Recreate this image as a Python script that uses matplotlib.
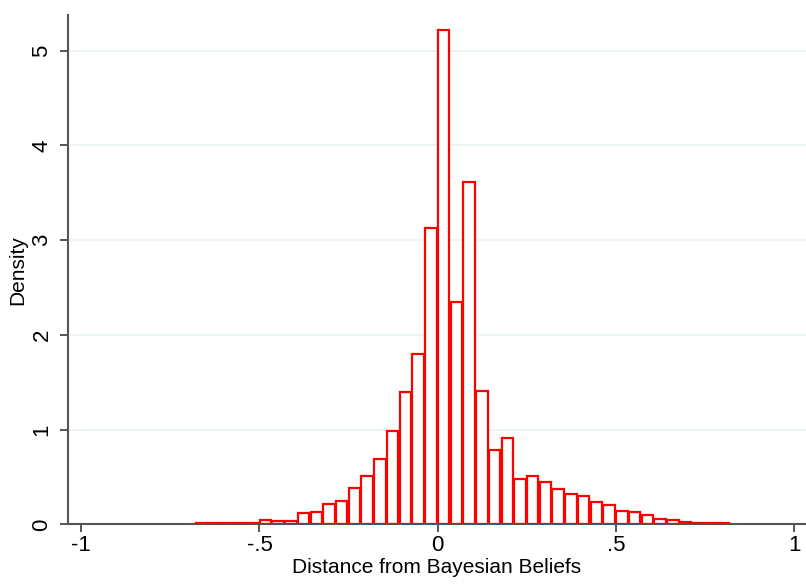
import numpy as np
import matplotlib.pyplot as plt

plt.rcParams['font.family'] = ['Liberation Sans', 'DejaVu Sans']

# histogram of distance from Bayesian beliefs (42 bins from -0.68 to 0.82)
bin_start = -0.68
bin_width = 1.5 / 42
density = [0.012, 0.010, 0.010, 0.010, 0.012,
           0.045, 0.035, 0.030, 0.120, 0.130, 0.210, 0.250, 0.380, 0.505, 0.690,
           0.990, 1.400, 1.800, 3.130, 5.220, 2.350, 3.610, 1.410, 0.780, 0.906,
           0.477, 0.510, 0.450, 0.375, 0.325, 0.295, 0.237, 0.200, 0.143, 0.125,
           0.100, 0.055, 0.045, 0.023, 0.014, 0.012, 0.010]
xticks = [-1, -0.5, 0, 0.5, 1]
xticklabels = ['-1', '-.5', '0', '.5', '1']
yticks = [0, 1, 2, 3, 4, 5]

centers = bin_start + bin_width * (np.arange(len(density)) + 0.5)

fig = plt.figure(figsize=(8.06, 5.84), dpi=100)
ax = fig.add_axes([0.084, 0.1022, 0.916, 0.8721])

ax.bar(centers, density, width=bin_width * 0.9, facecolor='white',
       edgecolor='#ff0000', linewidth=1.6, zorder=3)

ax.set_xlim(-1.038, 1.033)
ax.set_ylim(0, 5.377)
ax.set_xticks(xticks)
ax.set_xticklabels(xticklabels)
ax.set_yticks(yticks)
ax.set_yticklabels([str(v) for v in yticks], rotation=90, va='center')

ax.grid(axis='y', color='#eaf2f3', linewidth=1.2, zorder=0)
for side in ['top', 'right']:
    ax.spines[side].set_visible(False)
for side in ['left', 'bottom']:
    ax.spines[side].set_color('#555555')
    ax.spines[side].set_linewidth(1.5)
ax.tick_params(axis='both', direction='out', length=6, width=1.4,
               color='#555555', labelsize=16)
ax.tick_params(axis='x', pad=2)
ax.tick_params(axis='y', pad=5)

ax.set_xlabel('Distance from Bayesian Beliefs', fontsize=15, labelpad=1)
ax.set_ylabel('Density', fontsize=15, labelpad=3)

fig.savefig('out.png', dpi=100)
